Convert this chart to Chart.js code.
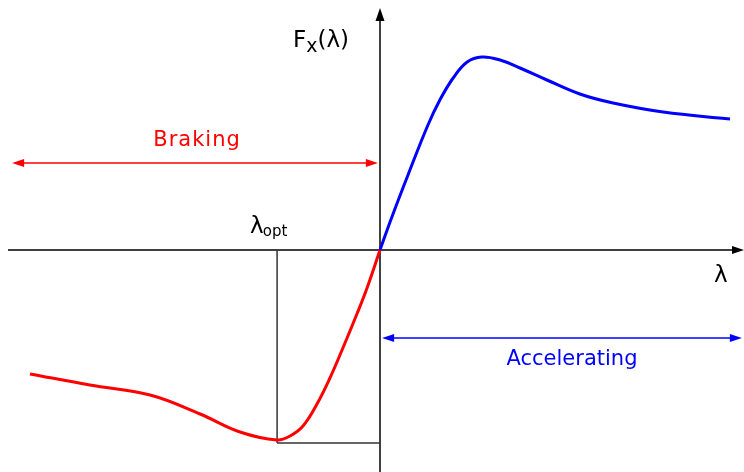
<!DOCTYPE html>
<html>
<head>
<meta charset="utf-8">
<script src="https://cdn.jsdelivr.net/npm/chart.js@4.4.1/dist/chart.umd.min.js"></script>
<style>
  html, body { margin: 0; padding: 0; background: #fff; }
  #wrap { width: 744px; height: 472px; }
</style>
</head>
<body>
<div id="wrap"><canvas id="tyreChart" width="744" height="472"></canvas></div>
<script>
// slip ratio (lambda) and normalised longitudinal force Fx
const brakingSlip  = [-1.0, -0.829, -0.657, -0.514, -0.4, -0.294, -0.257, -0.22, -0.18, -0.143, -0.106, -0.066, -0.037, 0];
const brakingForce = [-0.62, -0.675, -0.725, -0.82, -0.91, -0.95, -0.93, -0.88, -0.77, -0.64, -0.49, -0.32, -0.19, 0];

const drivingSlip  = [0, 0.034, 0.08, 0.137, 0.171, 0.209, 0.249, 0.291, 0.343, 0.4, 0.477, 0.571, 0.666, 0.809, 1.0];
const drivingForce = [0, 0.165, 0.375, 0.625, 0.75, 0.86, 0.94, 0.965, 0.95, 0.91, 0.85, 0.78, 0.735, 0.69, 0.655];

const lambdaOpt = -0.294;
const forceAtOpt = -0.95;

// region arrows: [from, to, level]
const brakingRange = [-1.051, -0.006, 0.435];
const accelRange = [0.006, 1.034, -0.44];

const FONT = '"DejaVu Sans", sans-serif';

function toPoints(xs, ys) {
  return xs.map((x, i) => ({ x: x, y: ys[i] }));
}

function arrowHead(ctx, x, y, dir, color) {
  // dir: 'up', 'left', 'right'
  ctx.save();
  ctx.fillStyle = color;
  ctx.beginPath();
  if (dir === "up") {
    ctx.moveTo(x, y);
    ctx.lineTo(x - 4.5, y + 13);
    ctx.lineTo(x + 4.5, y + 13);
  } else if (dir === "left") {
    ctx.moveTo(x, y);
    ctx.lineTo(x + 12, y - 4);
    ctx.lineTo(x + 12, y + 4);
  } else {
    ctx.moveTo(x, y);
    ctx.lineTo(x - 12, y - 4);
    ctx.lineTo(x - 12, y + 4);
  }
  ctx.closePath();
  ctx.fill();
  ctx.restore();
}

function line(ctx, x1, y1, x2, y2, color, w) {
  ctx.save();
  ctx.strokeStyle = color;
  ctx.lineWidth = w;
  ctx.beginPath();
  ctx.moveTo(x1, y1);
  ctx.lineTo(x2, y2);
  ctx.stroke();
  ctx.restore();
}

const axesPlugin = {
  id: "slipAxes",
  beforeDatasetsDraw(chart) {
    const ctx = chart.ctx;
    const xs = chart.scales.x, ys = chart.scales.y;
    const x0 = xs.getPixelForValue(0), y0 = ys.getPixelForValue(0);

    // axes
    line(ctx, xs.left + 8, y0, xs.right - 4, y0, "#000", 1.5);
    arrowHead(ctx, xs.right, y0, "right", "#000");
    line(ctx, x0, ys.bottom, x0, ys.top + 14, "#000", 1.5);
    arrowHead(ctx, x0, ys.top + 8, "up", "#000");

    // optimum slip guide
    const xo = xs.getPixelForValue(lambdaOpt);
    const yo = ys.getPixelForValue(forceAtOpt);
    line(ctx, xo, y0, xo, yo + 3, "#333", 1.5);
    line(ctx, xo, yo + 3, x0, yo + 3, "#333", 1.5);
  },
  afterDatasetsDraw(chart) {
    const ctx = chart.ctx;
    const xs = chart.scales.x, ys = chart.scales.y;
    const x0 = xs.getPixelForValue(0), y0 = ys.getPixelForValue(0);

    // braking range
    let a = xs.getPixelForValue(brakingRange[0]);
    let b = xs.getPixelForValue(brakingRange[1]);
    let yb = ys.getPixelForValue(brakingRange[2]);
    line(ctx, a + 6, yb, b - 6, yb, "#ff0000", 1.5);
    arrowHead(ctx, a, yb, "left", "#ff0000");
    arrowHead(ctx, b, yb, "right", "#ff0000");
    ctx.save();
    ctx.font = "21px " + FONT;
    ctx.letterSpacing = "1px";
    ctx.fillStyle = "#ff0000";
    ctx.textAlign = "center";
    ctx.textBaseline = "alphabetic";
    ctx.fillText("Braking", (a + b) / 2 + 2, yb - 17);
    ctx.restore();

    // accelerating range
    a = xs.getPixelForValue(accelRange[0]);
    b = xs.getPixelForValue(accelRange[1]);
    yb = ys.getPixelForValue(accelRange[2]);
    line(ctx, a + 6, yb, b - 6, yb, "#0000ff", 1.5);
    arrowHead(ctx, a, yb, "left", "#0000ff");
    arrowHead(ctx, b, yb, "right", "#0000ff");
    ctx.save();
    ctx.font = "21px " + FONT;
    ctx.fillStyle = "#0000ff";
    ctx.textAlign = "center";
    ctx.textBaseline = "alphabetic";
    ctx.fillText("Accelerating", (a + b) / 2 + 10, yb + 27);
    ctx.restore();

    // axis labels
    ctx.save();
    ctx.fillStyle = "#000";
    ctx.textBaseline = "alphabetic";
    ctx.textAlign = "left";
    let tx = x0 - 87, ty = 47;
    ctx.font = "23px " + FONT;
    ctx.fillText("F", tx, ty);
    tx += ctx.measureText("F").width;
    ctx.font = "19px " + FONT;
    ctx.fillText("x", tx, ty + 5);
    tx += ctx.measureText("x").width;
    ctx.font = "23px " + FONT;
    ctx.fillText("(λ)", tx, ty);

    ctx.font = "23px " + FONT;
    ctx.fillText("λ", xs.right - 30, y0 + 32);

    const xo = xs.getPixelForValue(lambdaOpt);
    tx = xo - 27; ty = y0 - 17;
    ctx.fillText("λ", tx, ty);
    tx += ctx.measureText("λ").width;
    ctx.font = "15px " + FONT;
    ctx.fillText("opt", tx - 1, ty + 3);
    ctx.restore();
  }
};

new Chart(document.getElementById("tyreChart"), {
  type: "scatter",
  data: {
    datasets: [
      {
        label: "Braking",
        data: toPoints(brakingSlip, brakingForce),
        showLine: true,
        borderColor: "#ff0000",
        borderWidth: 3,
        pointRadius: 0,
        tension: 0.4,
        fill: false
      },
      {
        label: "Accelerating",
        data: toPoints(drivingSlip, drivingForce),
        showLine: true,
        borderColor: "#0000ff",
        borderWidth: 3,
        pointRadius: 0,
        tension: 0.4,
        fill: false
      }
    ]
  },
  options: {
    responsive: false,
    animation: false,
    layout: { padding: 0 },
    plugins: {
      legend: { display: false },
      tooltip: { enabled: false }
    },
    scales: {
      x: { type: "linear", min: -1.0857, max: 1.04, display: false },
      y: { type: "linear", min: -1.11, max: 1.25, display: false }
    }
  },
  plugins: [axesPlugin]
});
</script>
</body>
</html>
